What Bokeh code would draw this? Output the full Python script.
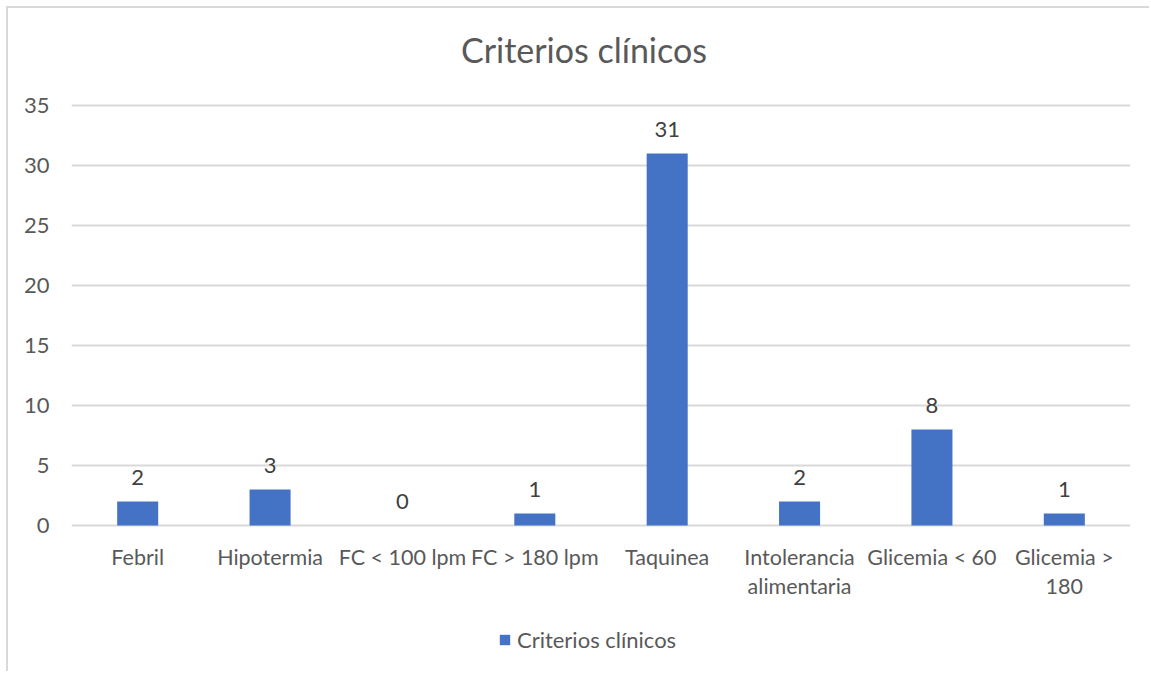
from bokeh.plotting import figure
from bokeh.models import FactorRange, Range1d, FixedTicker, Legend, LegendItem, ColumnDataSource
from bokeh.core.properties import value
from bokeh.embed import file_html
from bokeh.resources import INLINE

# Data
categories = ["Febril", "Hipotermia", "FC < 100 lpm", "FC > 180 lpm", "Taquinea",
              "Intolerancia\nalimentaria", "Glicemia < 60", "Glicemia >\n180"]
counts = [2, 3, 0, 1, 31, 2, 8, 1]
y_ticks = [0, 5, 10, 15, 20, 25, 30, 35]
series_name = "Criterios clínicos"
chart_title = "Criterios clínicos"

FONT = "Lato"
TEXT_GRAY = "#595959"
LABEL_GRAY = "#404040"
GRID_GRAY = "#d9d9d9"
BAR_BLUE = "#4472C4"

source = ColumnDataSource(dict(
    cat=categories,
    count=counts,
    label=[str(c) for c in counts],
    base=[0] * len(categories),
))

# The frame fills the whole canvas height so the title, the category labels
# and the legend can sit around the value area; the value axis stays 0..35.
PX_PER_UNIT = 12.0
CANVAS_H = 665
TOP_GAP = 97           # pixels between the canvas top and the 35 gridline
y_top_tick = y_ticks[-1]
y_top = y_top_tick + TOP_GAP / PX_PER_UNIT
y_bottom = y_top - CANVAS_H / PX_PER_UNIT

p = figure(
    width=1143, height=CANVAS_H,
    x_range=FactorRange(*categories, range_padding=0),
    y_range=Range1d(y_bottom, y_top),
    x_axis_location=None,
    title=None,
    output_backend="svg",
    toolbar_location=None,
    min_border_left=63, min_border_right=21,
    min_border_top=0, min_border_bottom=0,
)
p.margin = (6, 0, 0, 6)
p.styles = {"border-top": "2px solid #d9d9d9", "border-left": "2px solid #d9d9d9"}
p.outline_line_color = None
p.background_fill_color = "white"
p.border_fill_color = "white"

bars = p.vbar(x="cat", top="count", bottom="base", width=0.31, source=source,
              fill_color=BAR_BLUE, line_color=None)

# Chart title, floated above the top gridline
p.text(x=[len(categories) / 2], y=[y_top_tick], text=[chart_title],
       text_font=value(FONT), text_font_size="34px", text_color=TEXT_GRAY,
       text_align="center", text_baseline="middle",
       x_offset=-17, y_offset=-56)

# Value labels above each bar
p.text(x="cat", y="count", text="label", source=source,
       text_font=value(FONT), text_font_size="22px", text_color=LABEL_GRAY,
       text_align="center", text_baseline="middle", y_offset=-24)

# Category labels under the zero line
p.text(x="cat", y="base", text="cat", source=source,
       text_font=value(FONT), text_font_size="21.5px", text_color=TEXT_GRAY,
       text_align="center", text_baseline="top", text_line_height=1.12,
       y_offset=18)

# Value axis
p.yaxis.ticker = FixedTicker(ticks=y_ticks)
p.yaxis.axis_line_color = None
p.yaxis.major_tick_line_color = None
p.yaxis.minor_tick_line_color = None
p.yaxis.major_tick_out = 0
p.yaxis.major_label_text_font = FONT
p.yaxis.major_label_text_font_size = "22px"
p.yaxis.major_label_text_color = TEXT_GRAY
p.yaxis.major_label_standoff = 22

p.xgrid.grid_line_color = None
p.ygrid.grid_line_color = GRID_GRAY
p.ygrid.grid_line_width = 2

legend = Legend(items=[LegendItem(label=series_name, renderers=[bars])],
                orientation="horizontal", location=(427, 20),
                label_text_font=FONT, label_text_font_size="22px",
                label_text_color=TEXT_GRAY, glyph_width=13, glyph_height=13,
                label_standoff=6, border_line_color=None,
                background_fill_alpha=0, padding=0, margin=0)
p.add_layout(legend, "center")

open("out.html", "w").write(file_html(p, INLINE))
